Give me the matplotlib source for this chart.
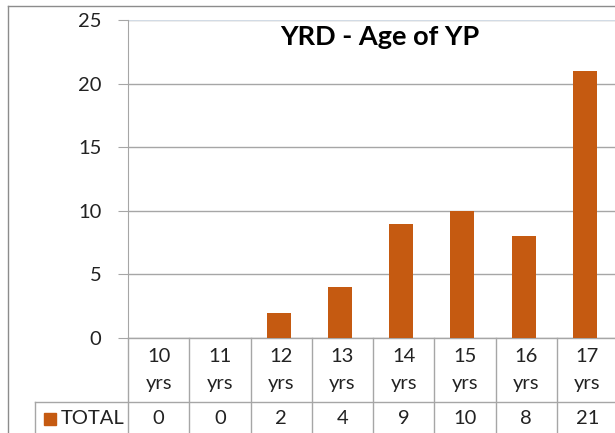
import matplotlib.pyplot as plt
import matplotlib.transforms as mtransforms
from matplotlib.lines import Line2D
from matplotlib.patches import Rectangle

ages = ["10", "11", "12", "13", "14", "15", "16", "17"]
totals = [0, 0, 2, 4, 9, 10, 8, 21]
series_name = "TOTAL"
title = "YRD - Age of YP"

bar_color = "#C55A11"
line_color = "#A6A6A6"
txt_color = "#222222"
W, H = 615, 433

plt.rcParams["font.family"] = ["Lato", "DejaVu Sans"]

fig = plt.figure(figsize=(W / 100, H / 100), dpi=100)
fig.patch.set_facecolor("white")

# plot area (right edge runs past the picture, as in the cropped original)
left, right, top, bottom = 128, 618, 20, 338
ax = fig.add_axes([left / W, 1 - bottom / H, (right - left) / W, (bottom - top) / H])

x = list(range(len(ages)))
ax.bar([i - 0.04 for i in x], totals, width=0.39, color=bar_color, zorder=3)

ax.set_xlim(-0.5, len(ages) - 0.5)
ax.set_ylim(0, 25)
ax.set_yticks([0, 5, 10, 15, 20, 25])
ax.set_xticks([])
ax.yaxis.grid(True, color=line_color, linewidth=1)
ax.set_axisbelow(True)
for s in ["top", "right", "bottom"]:
    ax.spines[s].set_visible(False)
ax.spines["left"].set_color(line_color)
ax.tick_params(axis="y", length=7, color=line_color, labelsize=14.5, pad=12, labelcolor=txt_color)
ax.axhline(25, color="#DCE6F2", linewidth=1.2, zorder=2)

fig.text(380 / W, 1 - 37 / H, title, ha="center", va="center",
         fontsize=19.5, fontweight="bold", color="black")

# data table under the axis
tr = mtransforms.blended_transform_factory(ax.transData, fig.transFigure)
def fy(px):
    return 1 - px / H

row_split = 402
for i in range(len(ages) + 1):
    xb = i - 0.5
    ax.add_line(Line2D([xb, xb], [fy(bottom), fy(H + 5)], transform=tr,
                       color=line_color, linewidth=1, clip_on=False))
ax.add_line(Line2D([-0.5, len(ages)], [fy(bottom), fy(bottom)], transform=tr,
                   color=line_color, linewidth=1, clip_on=False))
fig.add_artist(Line2D([35 / W, 1.0], [fy(row_split), fy(row_split)], color=line_color, linewidth=1))
fig.add_artist(Line2D([35 / W, 35 / W], [fy(row_split), 0], color=line_color, linewidth=1))

for i, a in enumerate(ages):
    ax.text(i, fy(356), a, transform=tr, ha="center", va="center", fontsize=14.5, color=txt_color)
    ax.text(i, fy(383), "yrs", transform=tr, ha="center", va="center", fontsize=14.5, color=txt_color)
    ax.text(i, fy(419), str(totals[i]), transform=tr, ha="center", va="center",
            fontsize=14.5, color=txt_color)

fig.add_artist(Rectangle((44 / W, fy(425)), 12 / W, 12 / H, transform=fig.transFigure,
                         color=bar_color))
fig.text(61 / W, fy(419), series_name, ha="left", va="center", fontsize=14.5, color=txt_color)

# outer chart border
fig.add_artist(Line2D([8 / W, 8 / W], [0, fy(6)], color="#8C8C8C", linewidth=1))
fig.add_artist(Line2D([8 / W, 1], [fy(6), fy(6)], color="#8C8C8C", linewidth=1))

fig.savefig("out.png", dpi=100)
